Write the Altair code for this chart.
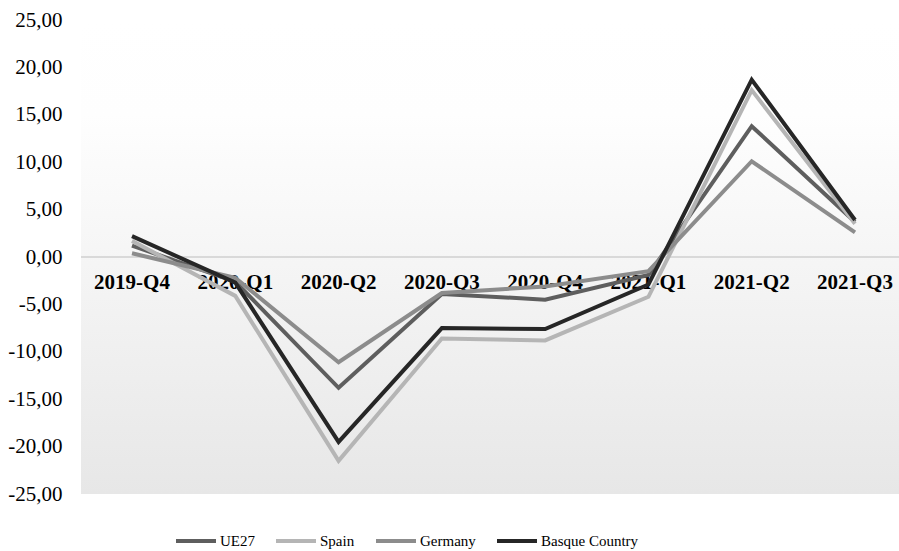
import altair as alt
import pandas as pd

quarters = ["2019-Q4", "2020-Q1", "2020-Q2", "2020-Q3", "2020-Q4", "2021-Q1", "2021-Q2", "2021-Q3"]
series_names = ["UE27", "Spain", "Germany", "Basque Country"]
ue27 = [1.2, -2.6, -13.8, -3.9, -4.5, -1.9, 13.8, 3.7]
spain = [1.7, -4.1, -21.5, -8.6, -8.8, -4.2, 17.6, 3.5]
germany = [0.4, -2.2, -11.1, -3.8, -3.1, -1.5, 10.1, 2.6]
basque = [2.2, -2.7, -19.5, -7.5, -7.6, -2.9, 18.7, 3.9]
colors = ["#5e5e5e", "#b5b5b5", "#8c8c8c", "#262626"]
y_ticks = [-25, -20, -15, -10, -5, 0, 5, 10, 15, 20, 25]

rows = []
for name, vals in zip(series_names, [ue27, spain, germany, basque]):
    for q, v in zip(quarters, vals):
        rows.append({"quarter": q, "series": name, "value": v})
df = pd.DataFrame(rows)
df_q = pd.DataFrame({"quarter": quarters})

FONT = "Liberation Serif"

xscale = alt.Scale(type="point", domain=quarters, range=[51, 774], padding=0)
yscale = alt.Scale(domain=[-25, 25], nice=False)

bg = alt.Chart(pd.DataFrame({"a": [0]})).mark_rect(
    fill=alt.Gradient(
        gradient="linear",
        stops=[alt.GradientStop(color="#ffffff", offset=0),
               alt.GradientStop(color="#fefefe", offset=0.2),
               alt.GradientStop(color="#e7e7e7", offset=1)],
        x1=0, x2=0, y1=0, y2=1,
    )
).encode(x=alt.value(0), x2=alt.value("width"), y=alt.value(0), y2=alt.value("height"))

zero = alt.Chart(pd.DataFrame({"a": [0]})).mark_rule(color="#d9d9d9", strokeWidth=2).encode(
    y=alt.datum(0, scale=yscale, type="quantitative"),
    x=alt.value(0), x2=alt.value("width"),
)

labels = alt.Chart(df_q).mark_text(
    font=FONT, fontSize=21, fontWeight="bold", color="#000000", dy=26, baseline="middle"
).encode(
    x=alt.X("quarter:N", scale=xscale, axis=None),
    y=alt.datum(0, scale=yscale, type="quantitative"),
    text="quarter:N",
)

lines = alt.Chart(df).mark_line(strokeWidth=4).encode(
    x=alt.X("quarter:N", scale=xscale, axis=None, sort=quarters),
    y=alt.Y("value:Q", scale=yscale, title=None,
            axis=alt.Axis(values=y_ticks, domain=False, ticks=False, grid=False,
                          labelPadding=19, labelFont=FONT, labelFontSize=21,
                          labelColor="#000000",
                          labelExpr="(datum.value < 0 ? '-' : '') + replace(format(abs(datum.value), '.2f'), '.', ',')")),
    color=alt.Color("series:N", scale=alt.Scale(domain=series_names, range=colors),
                    legend=alt.Legend(title=None, orient="none", legendX=93, legendY=499,
                                      direction="horizontal", symbolType="stroke",
                                      symbolSize=1600, symbolStrokeWidth=4,
                                      labelFont=FONT, labelFontSize=15, labelColor="#000000",
                                      columnPadding=13, labelOffset=2)),
    order=alt.Order("series_order:Q"),
).transform_calculate(
    series_order="indexof(['UE27','Spain','Germany','Basque Country'], datum.series)"
)

chart = alt.layer(bg, zero, labels, lines).properties(
    width=818, height=474,
    autosize=alt.AutoSizeParams(type="none"),
    padding={"left": 81, "top": 20, "right": 0, "bottom": 57},
    background="#ffffff",
).configure_view(stroke=None)

chart.save("out.html", embed_options={"renderer": "svg", "actions": False})
